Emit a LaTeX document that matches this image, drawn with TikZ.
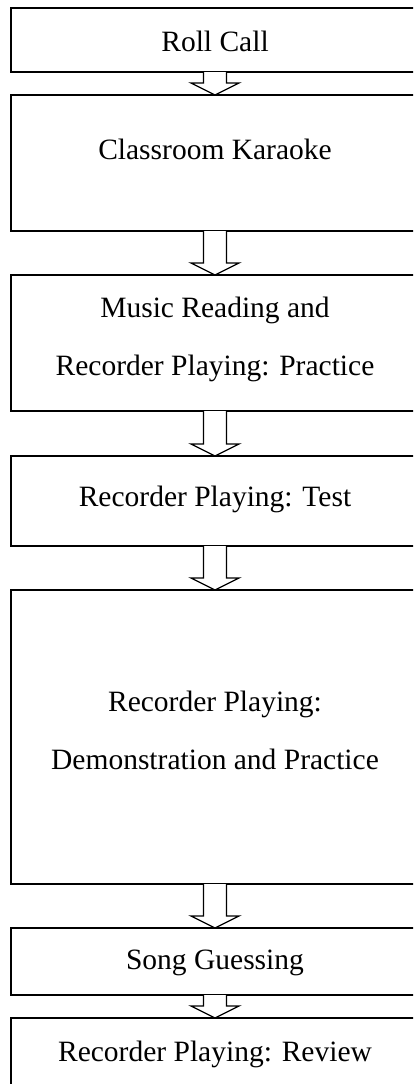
\documentclass[tikz,border=0pt]{standalone}
\usepackage{fontspec}
\setmainfont{Liberation Serif}
\usetikzlibrary{calc}

\tikzset{
  stagebox/.style={draw=black, line width=1.4pt, fill=white, inner sep=0pt, outer sep=0pt,
    minimum width=408pt, anchor=north},
  stagetext/.style={inner sep=0pt, anchor=base, font=\fontsize{29.5}{35}\selectfont},
  flowarrow/.style={draw=black, line width=1.3pt, fill=white, line join=miter}
}

% hollow block arrow from the bottom of one stage to the top of the next
\newcommand\stagearrow[2]{%
  \draw[flowarrow] ($(#1.south)+(-11.5,0)$) -- ($(#2.north)+(-11.5,-12)$)
    -- ($(#2.north)+(-24,-12)$) -- (#2.north) -- ($(#2.north)+(24,-12)$)
    -- ($(#2.north)+(11.5,-12)$) -- ($(#1.south)+(11.5,0)$);}

\begin{document}
\begin{tikzpicture}[x=1pt, y=-1pt]
  \useasboundingbox (0,0) rectangle (413,1084);
  \clip (0,0) rectangle (413,1084);

  % stage boxes
  \node[stagebox, minimum height=64pt]  (b1) at (215,8)    {};
  \node[stagebox, minimum height=136pt] (b2) at (215,95)   {};
  \node[stagebox, minimum height=136pt] (b3) at (215,275)  {};
  \node[stagebox, minimum height=90pt]  (b4) at (215,456)  {};
  \node[stagebox, minimum height=294pt] (b5) at (215,590)  {};
  \node[stagebox, minimum height=67pt]  (b6) at (215,928)  {};
  \node[stagebox, minimum height=74pt]  (b7) at (215,1018) {};

  % stage labels
  \node[stagetext] (t1)  at (215,51)   {Roll Call};
  \node[stagetext] (t2)  at (215,159)  {Classroom Karaoke};
  \node[stagetext] (t3a) at (215,317)  {Music Reading and};
  \node[stagetext] (t3b) at (215,375)  {Recorder Playing: Practice};
  \node[stagetext] (t4)  at (215,506)  {Recorder Playing: Test};
  \node[stagetext] (t5a) at (215,711)  {Recorder Playing:};
  \node[stagetext] (t5b) at (215,769)  {Demonstration and Practice};
  \node[stagetext] (t6)  at (215,969)  {Song Guessing};
  \node[stagetext] (t7)  at (215,1061) {Recorder Playing: Review};

  % flow between stages
  \stagearrow{b1}{b2}
  \stagearrow{b2}{b3}
  \stagearrow{b3}{b4}
  \stagearrow{b4}{b5}
  \stagearrow{b5}{b6}
  \stagearrow{b6}{b7}
\end{tikzpicture}
\end{document}
